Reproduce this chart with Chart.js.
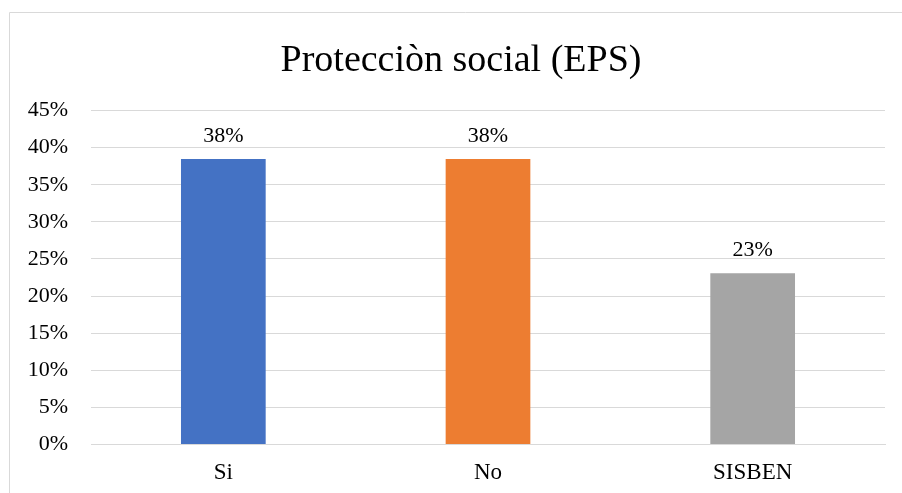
<!DOCTYPE html>
<html>
<head>
<meta charset="utf-8">
<script src="https://cdn.jsdelivr.net/npm/chart.js@4"></script>
<style>
  html, body { margin: 0; padding: 0; background: #fff; overflow: hidden; }
  #wrap { position: relative; width: 902px; height: 493px; overflow: hidden; }
  #wrap canvas { position: absolute; left: 0; top: 0; }
</style>
</head>
<body>
<div id="wrap"><canvas id="myChart" width="922" height="510" style="width:922px;height:510px"></canvas></div>
<script>
const categories = ['Si', 'No', 'SISBEN'];
const values = [38.46, 38.46, 23.08];
const barColors = ['#4472C4', '#ED7D31', '#A5A5A5'];
const tickLabels = ['0%', '5%', '10%', '15%', '20%', '25%', '30%', '35%', '40%', '45%'];
const titleText = 'Protecciòn social (EPS)';

const serif = '"Liberation Serif", "Times New Roman", serif';

// frame of the chart box (only top and left edges are inside the picture)
const framePlugin = {
    id: 'frame',
    beforeDraw(chart) {
        const c = chart.ctx;
        c.save();
        c.strokeStyle = '#d9d9d9';
        c.lineWidth = 1;
        c.beginPath();
        c.moveTo(9.5, chart.height);
        c.lineTo(9.5, 12.5);
        c.lineTo(chart.width, 12.5);
        c.stroke();
        c.restore();
    }
};

// value labels above the bars
const labelPlugin = {
    id: 'barLabels',
    afterDatasetsDraw(chart) {
        const c = chart.ctx;
        const meta = chart.getDatasetMeta(0);
        c.save();
        c.font = '22px ' + serif;
        c.fillStyle = '#000';
        c.textAlign = 'center';
        c.textBaseline = 'alphabetic';
        meta.data.forEach((bar, i) => {
            c.fillText(Math.round(values[i]) + '%', bar.x, bar.y - 17);
        });
        c.restore();
    }
};

const ctx = document.getElementById('myChart').getContext('2d');
const myChart = new Chart(ctx, {
    type: 'bar',
    data: {
        labels: categories,
        datasets: [{
            data: values,
            backgroundColor: barColors,
            borderWidth: 0,
            barPercentage: 0.32,
            categoryPercentage: 1,
            yAxisID: 'y'
        }]
    },
    options: {
        responsive: false,
        animation: false,
        layout: { padding: { left: 10, right: 10, top: 0, bottom: 8 } },
        plugins: {
            legend: { display: false },
            tooltip: { enabled: false },
            title: {
                display: true,
                text: titleText,
                color: '#000',
                font: { family: serif, size: 38, weight: 'normal' },
                padding: { top: 38, bottom: 27 }
            }
        },
        scales: {
            x: {
                grid: { display: false, drawTicks: false },
                border: { color: '#d9d9d9' },
                ticks: { color: '#000', font: { family: serif, size: 23 }, padding: 15 }
            },
            y: {
                min: 0,
                max: 45,
                afterFit(scale) { scale.width = 81; },
                afterBuildTicks(scale) {
                    scale.ticks = tickLabels.map((t, i) => ({ value: i * 5 }));
                },
                grid: { color: '#d9d9d9', drawTicks: false },
                border: { display: false },
                ticks: {
                    color: '#000',
                    font: { family: serif, size: 22 },
                    padding: 23,
                    callback: (v, i) => tickLabels[i]
                }
            },
            // empty right-hand spacer so the title sits centred on the whole box
            spacer: {
                type: 'linear',
                position: 'right',
                min: 0,
                max: 45,
                afterFit(scale) { scale.width = 27; },
                grid: { display: false, drawTicks: false },
                border: { display: false },
                ticks: { display: false }
            }
        }
    },
    plugins: [framePlugin, labelPlugin]
});
</script>
</body>
</html>
